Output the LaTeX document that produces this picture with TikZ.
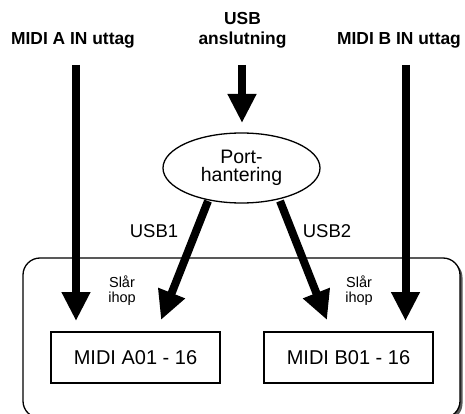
\documentclass[tikz,border=0pt]{standalone}
\usepackage{fontspec}
\setmainfont{Liberation Sans}
\usetikzlibrary{arrows.meta,shapes.geometric,shadows}
\begin{document}
\begin{tikzpicture}[x=1pt,y=1pt,
  fat/.style={line width=8pt,-{Triangle[width=27pt,length=29pt]}},
  toplbl/.style={font=\bfseries\fontsize{17.4}{20}\selectfont,anchor=base,inner sep=0pt},
  usblbl/.style={font=\fontsize{18.5}{20}\selectfont,anchor=base,inner sep=0pt},
  merge/.style={font=\fontsize{14.5}{15}\selectfont,align=center,inner sep=0pt},
  chbox/.style={draw,line width=1.3pt,minimum width=169pt,minimum height=51pt,inner sep=0pt,font=\fontsize{20}{24}\selectfont},
  frame/.style={draw,line width=1.3pt,rounded corners=17pt,fill=white,minimum width=437pt,minimum height=160pt,
    drop shadow={shadow xshift=2.5pt,shadow yshift=-2.5pt,fill=black!65,opacity=1}}
]
\useasboundingbox (0,0) rectangle (465,-414);

% container
\node[frame] (frame) at (241.5,-338) {};

% channel boxes
\node[chbox] (boxA) at (135.5,-357.5) {MIDI A01 - 16};
\node[chbox] (boxB) at (348.5,-357.5) {MIDI B01 - 16};

% top labels
\node[toplbl] (inA) at (73,-45) {MIDI A IN uttag};
\node[toplbl] (inB) at (399,-45) {MIDI B IN uttag};
\node[toplbl] (usbT) at (242.5,-25) {USB};
\node[toplbl] (usbB) at (242.5,-45) {anslutning};

% port handling ellipse
\node[draw,ellipse,line width=1.3pt,minimum width=157pt,minimum height=70pt,inner sep=0pt,
  align=center,font=\fontsize{19.5}{18.5}\selectfont] (port) at (241.5,-168) {Port-\\hantering};

% USB labels
\node[usblbl] (usb1) at (154,-237) {USB1};
\node[usblbl] (usb2) at (327,-237) {USB2};

% merge labels
\node[merge] (mA) at (122,-291) {Slår\\ihop};
\node[merge] (mB) at (359,-291) {Slår\\ihop};

% connector end points
\coordinate (aS) at (76,-65);
\coordinate (aE) at (76,-321);
\coordinate (bS) at (405.5,-65);
\coordinate (bE) at (405.5,-321);
\coordinate (uS) at (242,-65);
\coordinate (uE) at (242,-123);
\coordinate (p1) at (208,-201);
\coordinate (e1) at (161,-320);
\coordinate (p2) at (280,-201);
\coordinate (e2) at (327,-320);

\draw[fat] (aS) -- (aE);
\draw[fat] (bS) -- (bE);
\draw[fat] (uS) -- (uE);
\draw[fat] (p1) -- (e1);
\draw[fat] (p2) -- (e2);
\end{tikzpicture}
\end{document}
